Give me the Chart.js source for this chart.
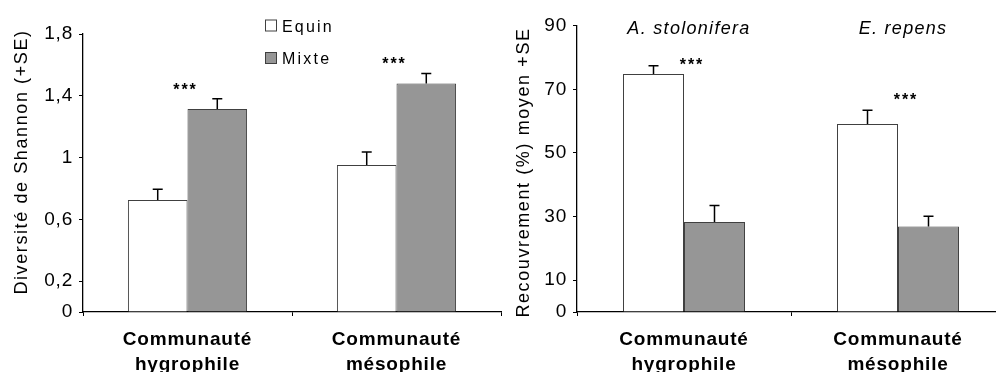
<!DOCTYPE html>
<html>
<head>
<meta charset="utf-8">
<script src="https://cdn.jsdelivr.net/npm/chart.js@4.4.0/dist/chart.umd.min.js"></script>
<style>
  html, body { margin: 0; padding: 0; background: #fff; overflow: hidden; width: 996px; height: 372px; }
  canvas { position: absolute; top: 0; }
  #c1 { left: 0; }
  #c2 { left: 496px; }
</style>
</head>
<body>
<canvas id="c1" width="506" height="372"></canvas>
<canvas id="c2" width="512" height="372"></canvas>
<script>
const categories = [['Communauté', 'hygrophile'], ['Communauté', 'mésophile']];
const seriesNames = ['Equin', 'Mixte'];

// Shannon diversity (left panel)
const shannonEquin = [0.725, 0.952];
const shannonEquinSE = [0.07, 0.084];
const shannonMixte = [1.315, 1.48];
const shannonMixteSE = [0.065, 0.064];
const shannonTicks = [0, 0.2, 0.6, 1, 1.4, 1.8];
const shannonStars = [1.46, 1.63];

// mean cover % (right panel)
const coverEquin = [74.8, 59.1];
const coverEquinSE = [2.6, 4.3];
const coverMixte = [28.3, 26.9];
const coverMixteSE = [5.2, 3.2];
const coverTicks = [0, 10, 30, 50, 70, 90];
const coverStars = [78.6, 67.6];
const speciesLabels = ['A. stolonifera', 'E. repens'];

const FONT = "'Liberation Sans', Arial, sans-serif";
const EDGE = '#404040';
const colors = ['#ffffff', '#969696'];

const errorBars = {
  id: 'errorBars',
  afterDatasetsDraw(chart) {
    const ctx = chart.ctx, y = chart.scales.y;
    chart.data.datasets.forEach((ds, i) => {
      chart.getDatasetMeta(i).data.forEach((bar, j) => {
        const top = y.getPixelForValue(ds.data[j] + ds.se[j]);
        ctx.save();
        ctx.strokeStyle = '#000';
        ctx.lineWidth = 1.5;
        ctx.beginPath();
        ctx.moveTo(bar.x, bar.y);
        ctx.lineTo(bar.x, top);
        ctx.moveTo(bar.x - 5, top);
        ctx.lineTo(bar.x + 5, top);
        ctx.stroke();
        ctx.restore();
      });
    });
  }
};

const spacing = {
  id: 'spacing',
  beforeDraw(chart) { chart.ctx.letterSpacing = '0.8px'; }
};

function text(ctx, str, x, y, font, align, sp, rot) {
  ctx.save();
  ctx.font = font;
  ctx.letterSpacing = sp + 'px';
  ctx.fillStyle = '#000';
  ctx.textAlign = align;
  ctx.textBaseline = 'alphabetic';
  ctx.translate(x, y);
  if (rot) ctx.rotate(rot);
  ctx.fillText(str, 0, 0);
  ctx.restore();
}

function makeChart(id, o) {
  const annotations = {
    id: 'annotations',
    afterDraw(chart) {
      const ctx = chart.ctx, x = chart.scales.x, y = chart.scales.y;
      text(ctx, o.title, o.titleX, o.titleY, '18px ' + FONT, 'center', 1.6, -Math.PI / 2);
      o.stars.forEach((v, i) => {
        text(ctx, '***', x.getPixelForValue(i) + o.starDx, y.getPixelForValue(v) + 8.5,
          'bold 16px ' + FONT, 'center', 2);
      });
      if (o.legend) {
        seriesNames.forEach((name, i) => {
          const ly = 20 + i * 32.5;
          ctx.save();
          ctx.fillStyle = colors[i];
          ctx.fillRect(265.5, ly, 11, 11);
          ctx.strokeStyle = EDGE;
          ctx.lineWidth = 1;
          ctx.strokeRect(265.5, ly, 11, 11);
          ctx.restore();
          text(ctx, name, 282, ly + 11.5, '16px ' + FONT, 'left', 2.2);
        });
      }
      if (o.species) {
        o.species.forEach((s, i) => {
          text(ctx, s, x.getPixelForValue(i) + 5, 34, 'italic 18px ' + FONT, 'center', 1.3);
        });
      }
    }
  };

  return new Chart(document.getElementById(id), {
    type: 'bar',
    data: {
      labels: categories,
      datasets: [
        { label: seriesNames[0], data: o.equin, se: o.equinSE, backgroundColor: colors[0] },
        { label: seriesNames[1], data: o.mixte, se: o.mixteSE, backgroundColor: colors[1] }
      ].map(d => Object.assign(d, {
        borderColor: EDGE, borderWidth: 1, categoryPercentage: 0.57, barPercentage: 1
      }))
    },
    options: {
      responsive: false,
      animation: false,
      layout: { padding: { top: o.top, left: 0, right: o.right, bottom: 0 } },
      plugins: { legend: { display: false }, tooltip: { enabled: false } },
      scales: {
        x: {
          grid: { display: true, drawOnChartArea: false, drawTicks: true, tickLength: 4, color: '#000', lineWidth: 1 },
          border: { color: '#000', width: 1.3 },
          ticks: {
            color: '#000', padding: 11, maxRotation: 0, autoSkip: false,
            font: { family: FONT, size: 19, weight: 'bold', lineHeight: 1.32 }
          },
          afterFit: s => { s.height = 60; }
        },
        y: {
          min: 0, max: o.ticks[o.ticks.length - 1],
          afterBuildTicks: s => { s.ticks = o.ticks.map(v => ({ value: v })); },
          grid: { display: true, drawOnChartArea: false, tickLength: 4, color: '#000', lineWidth: 1 },
          border: { color: '#000', width: 1.3 },
          ticks: {
            color: '#000', padding: 6,
            font: { family: FONT, size: 19 },
            callback: v => String(v).replace('.', ',')
          },
          afterFit: s => { s.width = o.axisLeft; }
        }
      }
    },
    plugins: [spacing, errorBars, annotations]
  });
}

makeChart('c1', {
  equin: shannonEquin, equinSE: shannonEquinSE, mixte: shannonMixte, mixteSE: shannonMixteSE,
  ticks: shannonTicks, stars: shannonStars, starDx: -2,
  title: 'Diversité de Shannon (+SE)', titleX: 27, titleY: 162,
  top: 34, right: 5, axisLeft: 83, legend: true
});

makeChart('c2', {
  equin: coverEquin, equinSE: coverEquinSE, mixte: coverMixte, mixteSE: coverMixteSE,
  ticks: coverTicks, stars: coverStars, starDx: 8,
  title: 'Recouvrement (%) moyen +SE', titleX: 33, titleY: 172.5,
  top: 25.7, right: 3, axisLeft: 81, species: speciesLabels
});
</script>
</body>
</html>
